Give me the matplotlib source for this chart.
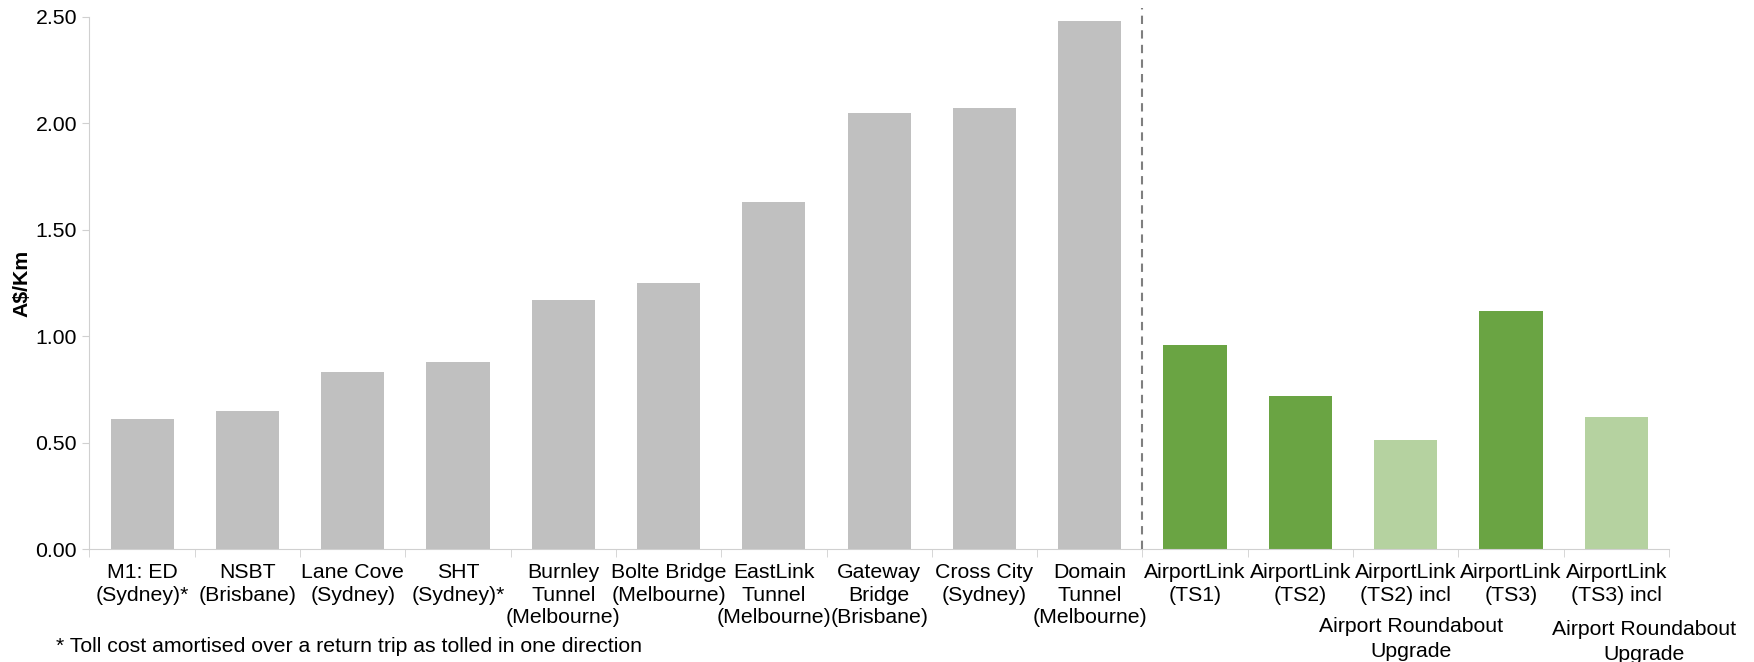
import matplotlib.pyplot as plt
from matplotlib.transforms import blended_transform_factory

plt.rcParams['font.family'] = ['Liberation Sans', 'DejaVu Sans']

# toll cost per km by road
labels = [
    'M1: ED\n(Sydney)*', 'NSBT\n(Brisbane)', 'Lane Cove\n(Sydney)', 'SHT\n(Sydney)*',
    'Burnley\nTunnel\n(Melbourne)', 'Bolte Bridge\n(Melbourne)', 'EastLink\nTunnel\n(Melbourne)',
    'Gateway\nBridge\n(Brisbane)', 'Cross City\n(Sydney)', 'Domain\nTunnel\n(Melbourne)',
    'AirportLink\n(TS1)', 'AirportLink\n(TS2)', 'AirportLink\n(TS2) incl',
    'AirportLink\n(TS3)', 'AirportLink\n(TS3) incl',
]
cost = [0.61, 0.65, 0.83, 0.88, 1.17, 1.25, 1.63, 2.05, 2.07, 2.48,
        0.96, 0.72, 0.51, 1.12, 0.62]
kind = ['other'] * 10 + ['airport', 'airport', 'incl', 'airport', 'incl']
yticks = [0.0, 0.5, 1.0, 1.5, 2.0, 2.5]

palette = {'other': '#c0c0c0', 'airport': '#6aa443', 'incl': '#b5d2a0'}
fs = 15.3

fig = plt.figure(figsize=(17.54, 6.62), dpi=100)
ax = fig.add_axes([0.051, 0.1706, 0.9005, 0.8041])

x = list(range(len(cost)))
ax.bar(x, cost, width=0.6, color=[palette[k] for k in kind], zorder=2)

ax.set_xlim(-0.5, len(cost) - 0.5)
ax.set_ylim(0, 2.5)
ax.set_yticks(yticks)
ax.set_yticklabels([f'{v:.2f}' for v in yticks], fontsize=fs)
ax.set_xticks(x)
ax.set_xticklabels(labels, fontsize=fs, linespacing=1.25)
ax.set_xticks([i - 0.5 for i in range(len(cost) + 1)], minor=True)
ax.tick_params(axis='x', which='major', length=0, pad=10)
ax.tick_params(axis='x', which='minor', length=6, color='#d0d0d0')
ax.tick_params(axis='y', length=5, color='#d0d0d0', pad=4)

for side in ['top', 'right']:
    ax.spines[side].set_visible(False)
for side in ['left', 'bottom']:
    ax.spines[side].set_color('#d0d0d0')

ax.set_ylabel('A$/Km', fontsize=fs, fontweight='bold', labelpad=3)

# split between existing roads and AirportLink options
ax.axvline(9.5, ymin=0, ymax=1.017, color='#7f7f7f', linestyle=(0, (4, 3)),
           linewidth=1.5, clip_on=False, zorder=3)

tr = blended_transform_factory(ax.transData, fig.transFigure)
ax.text(12.05, 0.035, 'Airport Roundabout\nUpgrade', transform=tr, ha='center',
        va='center', fontsize=fs, linespacing=1.4)
ax.text(14.26, 0.030, 'Airport Roundabout\nUpgrade', transform=tr, ha='center',
        va='center', fontsize=fs, linespacing=1.4, clip_on=False)

fig.text(0.0319, 0.0236, '* Toll cost amortised over a return trip as tolled in one direction',
         fontsize=fs, va='center')

fig.savefig('out.png', dpi=100)
